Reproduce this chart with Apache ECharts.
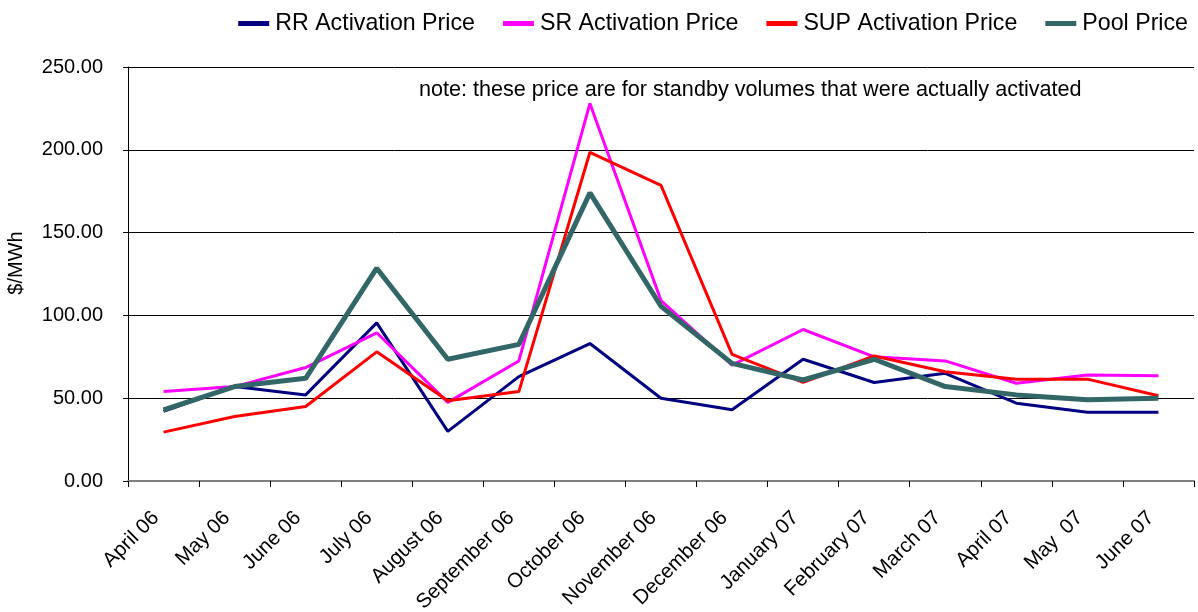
<!DOCTYPE html>
<html>
<head>
<meta charset="utf-8">
<script src="https://cdn.jsdelivr.net/npm/echarts@6/dist/echarts.min.js"></script>
<style>
html,body{margin:0;padding:0;background:#fff;}
#chart{width:1198px;height:612px;}
</style>
</head>
<body>
<div id="chart"></div>
<script>
const categories = ['April 06','May 06','June 06','July 06','August 06','September 06','October 06','November 06','December 06','January 07','February 07','March 07','April 07','May  07','June 07'];
const rrPrice   = [42, 57, 52, 95.5, 30, 63, 83, 50, 43, 73.5, 59.5, 65, 47, 41.5, 41.5];
const srPrice   = [54, 57, 68.5, 89.5, 47.5, 72.5, 228, 109, 70, 91.5, 75, 72.5, 59, 64, 63.5];
const supPrice  = [29.5, 39, 45, 78, 48.5, 54, 198.5, 178.5, 76.5, 59.5, 75.5, 66, 61.5, 61.5, 51.5];
const poolPrice = [43, 57, 62, 128.5, 73.5, 82.5, 174, 105.5, 71, 61, 73.5, 57, 52, 49, 50];
const yTicks = {min: 0, max: 250, interval: 50};
const noteText = 'note: these price are for standby volumes that were actually activated';

const FONT = '"Liberation Sans", Arial, sans-serif';
const chart = echarts.init(document.getElementById('chart'));
function line(name, data, color, width) {
  return {
    name: name, type: 'line', data: data, symbol: 'none',
    lineStyle: {color: color, width: width}, itemStyle: {color: color},
    animation: false
  };
}
chart.setOption({
  animation: false,
  textStyle: {fontFamily: FONT},
  title: {
    text: noteText, left: 414, top: 74,
    textStyle: {fontSize: 21.6, fontWeight: 'normal', color: '#000', fontFamily: FONT}
  },
  legend: {
    right: 5, top: 7, itemWidth: 31, itemHeight: 5, itemGap: 28,
    textStyle: {fontSize: 23.2, color: '#000', fontFamily: FONT, padding: [0,0,0,1]},
    icon: 'rect',
    data: ['RR Activation Price','SR Activation Price','SUP Activation Price','Pool Price']
  },
  grid: {left: 128, right: 4, top: 67, bottom: 131, containLabel: false, outerBoundsMode: 'none'},
  xAxis: {
    type: 'category', data: categories, boundaryGap: true,
    axisLine: {lineStyle: {color: '#808080', width: 2}},
    axisTick: {show: true, interval: 0, length: 6, lineStyle: {color: '#000', width: 1}},
    axisLabel: {interval: 0, rotate: 45, margin: 26, padding: [0, 11, 0, 0], fontSize: 20.5, color: '#000', fontFamily: FONT}
  },
  yAxis: {
    type: 'value', min: yTicks.min, max: yTicks.max, interval: yTicks.interval,
    name: '$/MWh', nameLocation: 'middle', nameRotate: 90, nameGap: 102,
    nameTextStyle: {fontSize: 20, color: '#000', fontFamily: FONT, padding: [0, 0, 0, 22]},
    axisLine: {show: true, lineStyle: {color: '#000', width: 1}},
    axisTick: {show: true, length: 5, lineStyle: {color: '#000'}},
    axisLabel: {margin: 25, fontSize: 20, color: '#000', fontFamily: FONT,
      formatter: function (v) { return v.toFixed(2); }},
    splitLine: {show: true, lineStyle: {color: '#000', width: 1}}
  },
  series: [
    line('RR Activation Price', rrPrice, '#000080', 3),
    line('SR Activation Price', srPrice, '#FF00FF', 3),
    line('SUP Activation Price', supPrice, '#FF0000', 3),
    line('Pool Price', poolPrice, '#336666', 5)
  ]
});
</script>
</body>
</html>
